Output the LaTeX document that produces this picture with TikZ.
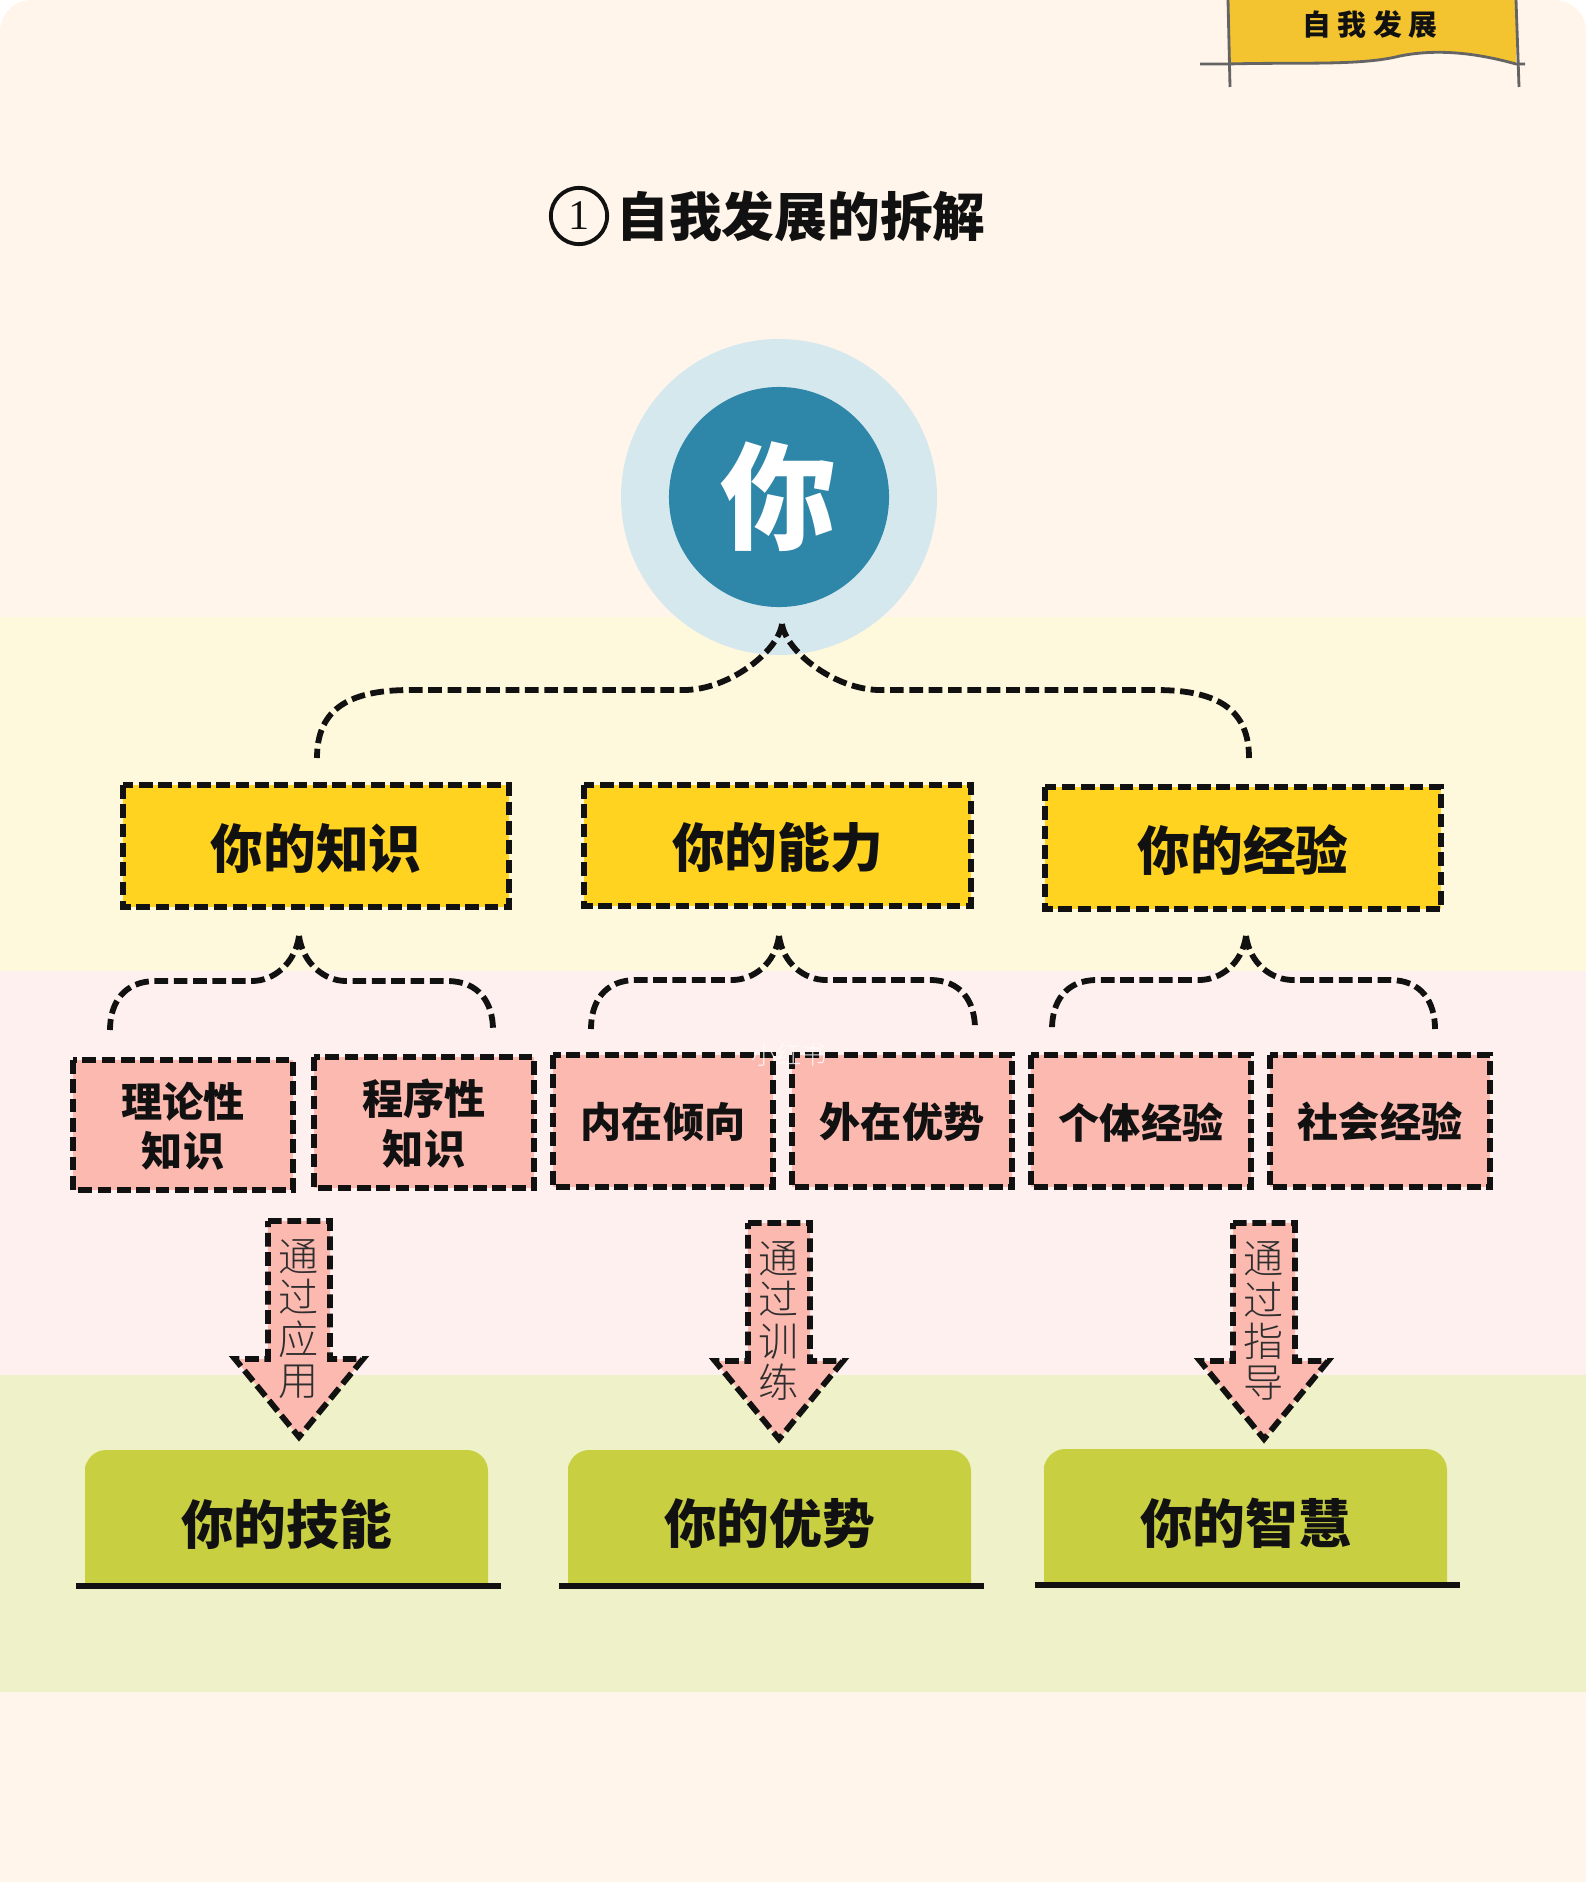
\documentclass[tikz,border=0pt]{standalone}
\usepackage{fontspec}
\usepackage{xcolor}
\setmainfont{Noto Sans CJK SC}
\newfontfamily\heavy{Noto Sans CJK SC Black}
\newfontfamily\plain{Noto Sans CJK SC Light}
\newfontfamily\digit{Liberation Serif}

\definecolor{PAGE}{HTML}{FFF5EB}
\definecolor{BANDY}{HTML}{FEF8DC}
\definecolor{BANDP}{HTML}{FEF0EE}
\definecolor{BANDG}{HTML}{EFF2C8}
\definecolor{HALO}{HTML}{D5E8EE}
\definecolor{CORE}{HTML}{2E86A8}
\definecolor{YEL}{HTML}{FFD31F}
\definecolor{PNK}{HTML}{FBB9B0}
\definecolor{GRN}{HTML}{C8CF40}
\definecolor{TAB}{HTML}{F4C430}
\definecolor{INK}{HTML}{111111}

\tikzset{
	dashline/.style={draw=INK,line width=1.65pt,dash pattern=on 3.9pt off 1.6pt},
	bigtext/.style={font=\heavy\fontsize{15}{18}\selectfont,text=INK,inner sep=0pt},
	smalltext/.style={font=\heavy\fontsize{11.7}{14}\selectfont,text=INK,align=center,inner sep=0pt},
	viatext/.style={font=\plain\fontsize{11.4}{11.7}\selectfont,text=INK!88,align=center,inner sep=0pt},
}

\begin{document}
\begin{tikzpicture}[x=0.01cm,y=-0.01cm]
\useasboundingbox (0,0) rectangle (1586,1882);

% Page and colour bands
\fill[white] (0,0) rectangle (1586,1882);
\fill[PAGE,rounded corners=9pt] (0,0) rectangle (1586,200);
\fill[PAGE] (0,100) rectangle (1586,1882);
\fill[BANDY] (0,617) rectangle (1586,971);
\fill[BANDP] (0,971) rectangle (1586,1375);
\fill[BANDG] (0,1375) rectangle (1586,1692);

% Corner tab
\fill[TAB] (1228,0) -- (1228,64) .. controls (1300,62) and (1360,66) .. (1400,56) .. controls (1440,48) and (1480,54) .. (1516,64) -- (1516,0) -- cycle;
\draw[INK!65,line width=0.8pt] (1200,64) -- (1228,64) .. controls (1300,62) and (1360,66) .. (1400,56) .. controls (1440,48) and (1480,54) .. (1516,64) -- (1525,64);
\draw[INK!65,line width=0.8pt] (1228,0) -- (1230,87);
\draw[INK!65,line width=0.8pt] (1516,0) -- (1519,87);
\node[font=\heavy\fontsize{8.2}{10}\selectfont,text=INK,inner sep=0pt] (tab) at (1370,25) {自\hspace{1.9pt}我\hspace{1.9pt}发\hspace{1.9pt}展};

% Title
\node[draw=INK,circle,line width=1.1pt,minimum size=16pt,inner sep=0pt,font=\digit\fontsize{12}{12}\selectfont,text=INK] (num) at (579,216) {1};
\node[bigtext] (title) at (801,216) {自我发展的拆解};

% Centre circle
\fill[HALO] (779,497) circle (158);
\node[circle,fill=CORE,minimum size=220*0.2845pt,inner sep=0pt,text=white,font=\heavy\fontsize{33}{38}\selectfont] (you) at (779,497) {你};

% Curly connectors
\foreach \ax/\ay/\lx/\rx/\hy/\ey/\d/\r in {782/624/317/1249/690/758/98/93,299/936/110/493/981/1030/47/46,779/936/591/975/980/1029/47/45,1246/936/1052/1435/980/1029/47/45}{
	\coordinate (apex) at (\ax,\ay);
	\coordinate (endl) at (\lx,\ey);
	\coordinate (endr) at (\rx,\ey);
	\draw[dashline] (apex) .. controls (\ax-4,\ay+28) and (\ax-\d*0.55,\hy) .. (\ax-\d,\hy) -- (\lx+\r,\hy) .. controls (\lx+\r*0.3,\hy) and (\lx,\hy+22) .. (endl);
	\draw[dashline] (apex) .. controls (\ax+4,\ay+28) and (\ax+\d*0.55,\hy) .. (\ax+\d,\hy) -- (\rx-\r,\hy) .. controls (\rx-\r*0.3,\hy) and (\rx,\hy+22) .. (endr);
}

% Yellow boxes
\foreach \x/\y/\w/\h/\n/\t in {123/785/386/122/know/你的知识,584/785/387/121/able/你的能力,1045/787/396/122/exper/你的经验}{
	\draw[dashline,fill=YEL] (\x,\y) rectangle ++(\w,\h) node[midway,bigtext,yshift=-0.7pt] (\n) {\t};
}

% Pink boxes
\foreach \x/\y/\h/\n/\t in {73/1060/130/theory/理论性\\知识,314/1057/131/proc/程序性\\知识,553/1055/132/inner/内在倾向,792/1055/132/outer/外在优势,1031/1055/132/indiv/个体经验,1270/1055/132/social/社会经验}{
	\draw[dashline,fill=PNK] (\x,\y) rectangle ++(220,\h) node[midway,smalltext,yshift=-0.3pt] (\n) {\t};
}

% Arrows
\foreach \x/\y/\n/\t in {299/1221/use/通\\过\\应\\用,779/1223/train/通\\过\\训\\练,1264/1223/guide/通\\过\\指\\导}{
	\draw[dashline,fill=PNK] (\x-31,\y) -- (\x+31,\y) -- (\x+31,\y+138) -- (\x+64,\y+138) -- (\x,\y+216) -- (\x-64,\y+138) -- (\x-31,\y+138) -- cycle;
	\node[viatext] (\n) at (\x,\y+98) {\t};
}

% Green plates
\foreach \x/\y/\n/\t in {85/1450/skill/你的技能,568/1450/edge/你的优势,1044/1449/wise/你的智慧}{
	\fill[GRN] (\x,\y+136) -- (\x,\y+12) [rounded corners=6pt] -- (\x,\y) -- (\x+403,\y) [sharp corners] -- (\x+403,\y+136) -- cycle;
	\path (\x,\y) rectangle ++(403,136) node[midway,bigtext,yshift=-1.7pt] (\n) {\t};
	\draw[INK,line width=1.5pt] (\x-9,\y+136) -- (\x+416,\y+136);
}

% Faint mark
\node[text=white,opacity=0.8,font=\plain\fontsize{7.2}{8}\selectfont,inner sep=0pt] (mark) at (789,1055) {小红书};

\end{tikzpicture}
\end{document}
